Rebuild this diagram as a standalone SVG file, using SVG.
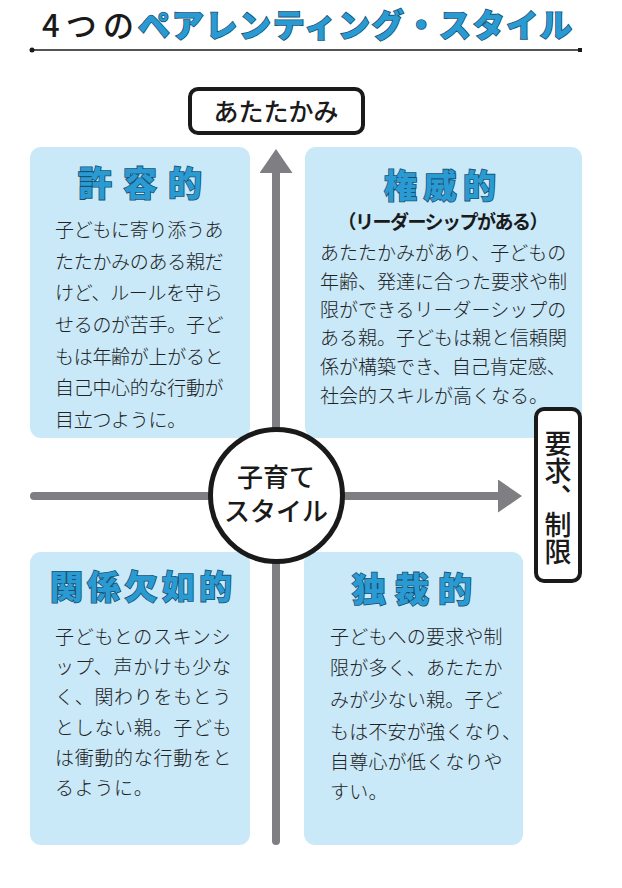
<svg xmlns="http://www.w3.org/2000/svg" width="622" height="888" viewBox="0 0 622 888">
<style>
.box{fill:#c9e8f8}
.head{font-family:"Noto Sans CJK JP","Noto Sans",sans-serif;font-weight:900;fill:#2a9ad3;stroke:#17506f;stroke-width:1.6;paint-order:stroke;text-anchor:middle}
.body{font-family:"Noto Sans CJK JP","Noto Sans",sans-serif;font-weight:300;font-size:19px;fill:#222}
.lbl{font-family:"Noto Sans CJK JP","Noto Sans",sans-serif;font-weight:500;fill:#1a1a1a}
.frame{fill:#fff;stroke:#1a1a1a;stroke-width:4}
.axis{stroke:#7e7e83;stroke-width:8;stroke-linecap:round;fill:none}
</style>
<defs>
<marker id="ah" markerUnits="userSpaceOnUse" markerWidth="26" markerHeight="34" refX="1" refY="16.5" orient="auto">
<path d="M0,0 L24,16.5 L0,33 z" fill="#7e7e83"/>
</marker>
</defs>
<rect width="622" height="888" fill="#fff"/>

<g id="title">
<text x="42" y="37" font-family="'Noto Sans CJK JP',sans-serif" font-weight="500" font-size="31" fill="#1a1a1a" textLength="92" lengthAdjust="spacing">4つの</text>
<text x="138" y="37" class="head" style="text-anchor:start" font-size="32" textLength="434" lengthAdjust="spacing">ペアレンティング・スタイル</text>
<line x1="32" y1="50" x2="580" y2="50" stroke="#1a1a1a" stroke-width="1.5"/>
<circle cx="32" cy="50" r="2.5" fill="#1a1a1a"/>
<rect x="578" y="48" width="4" height="4" fill="#1a1a1a"/>
</g>

<g id="box-permissive">
<rect class="box" x="30" y="147" width="220" height="291" rx="11"/>
<text class="head" x="140" y="196" font-size="34" textLength="124" lengthAdjust="spacing">許容的</text>
<text class="body" x="55" style="letter-spacing:-0.3px">
<tspan x="55" y="237">子どもに寄り添うあ</tspan>
<tspan x="55" y="269">たたかみのある親だ</tspan>
<tspan x="55" y="300">けど、ルールを守ら</tspan>
<tspan x="55" y="332">せるのが苦手。子ど</tspan>
<tspan x="55" y="364">もは年齢が上がると</tspan>
<tspan x="55" y="395">自己中心的な行動が</tspan>
<tspan x="55" y="427">目立つように。</tspan>
</text>
</g>

<g id="box-authoritative">
<rect class="box" x="305" y="147" width="277" height="291" rx="11"/>
<text class="head" x="440" y="198" font-size="33" textLength="112" lengthAdjust="spacing">権威的</text>
<text x="443" y="229" text-anchor="middle" font-family="'Noto Sans CJK JP',sans-serif" font-weight="700" font-size="19" fill="#1a1a1a" textLength="211" lengthAdjust="spacing">（リーダーシップがある）</text>
<text class="body">
<tspan x="320" y="260">あたたかみがあり、子どもの</tspan>
<tspan x="320" y="289">年齢、発達に合った要求や制</tspan>
<tspan x="320" y="317">限ができるリーダーシップの</tspan>
<tspan x="320" y="345">ある親。子どもは親と信頼関</tspan>
<tspan x="320" y="374">係が構築でき、自己肯定感、</tspan>
<tspan x="320" y="403">社会的スキルが高くなる。</tspan>
</text>
</g>

<g id="box-neglectful">
<rect class="box" x="30" y="552" width="220" height="293" rx="11"/>
<text class="head" x="141" y="599" font-size="33" textLength="182" lengthAdjust="spacing">関係欠如的</text>
<text class="body" style="letter-spacing:0.7px">
<tspan x="55" y="644">子どもとのスキンシ</tspan>
<tspan x="55" y="674">ップ、声かけも少な</tspan>
<tspan x="55" y="704">く、関わりをもとう</tspan>
<tspan x="55" y="735">としない親。子ども</tspan>
<tspan x="55" y="765">は衝動的な行動をと</tspan>
<tspan x="55" y="795">るように。</tspan>
</text>
</g>

<g id="box-authoritarian">
<rect class="box" x="304" y="552" width="219" height="293" rx="11"/>
<text class="head" x="412" y="602" font-size="34" textLength="120" lengthAdjust="spacing">独裁的</text>
<text class="body" style="letter-spacing:0.2px">
<tspan x="330" y="644">子どもへの要求や制</tspan>
<tspan x="330" y="675">限が多く、あたたか</tspan>
<tspan x="330" y="707">みが少ない親。子ど</tspan>
<tspan x="330" y="739">もは不安が強くなり、</tspan>
<tspan x="330" y="769">自尊心が低くなりや</tspan>
<tspan x="330" y="799">すい。</tspan>
</text>
</g>

<g id="connectors">
<line class="axis" x1="276" y1="841" x2="276" y2="172" marker-end="url(#ah)"/>
<line class="axis" x1="34" y1="496" x2="499" y2="496" marker-end="url(#ah)"/>
</g>

<g id="label-warmth">
<rect class="frame" x="190" y="89" width="173" height="44" rx="8"/>
<text class="lbl" x="276" y="121" font-size="25" text-anchor="middle">あたたかみ</text>
</g>

<g id="center">
<circle cx="276.5" cy="495.5" r="66" fill="#fff" stroke="#1a1a1a" stroke-width="5"/>
<text class="lbl" x="276" y="487" font-size="26" text-anchor="middle">子育て</text>
<text class="lbl" x="276" y="521" font-size="26" text-anchor="middle">スタイル</text>
</g>

<g id="label-demand">
<rect class="frame" x="536" y="409" width="44" height="172" rx="8"/>
<text class="lbl" x="558" y="430" font-size="27" writing-mode="vertical-rl">要求、制限</text>
</g>
</svg>
